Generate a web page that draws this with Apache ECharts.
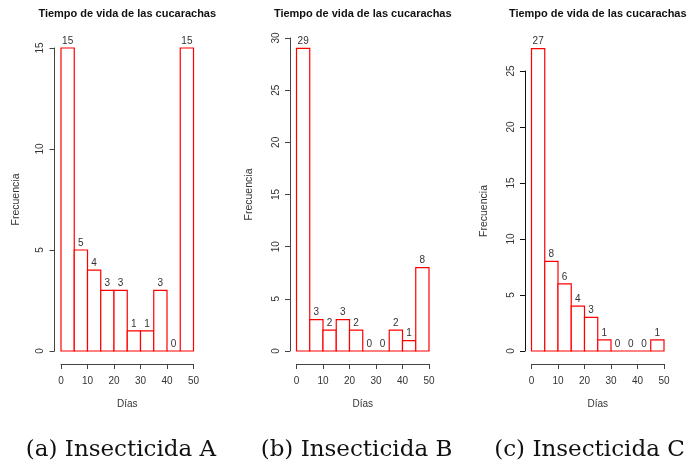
<!DOCTYPE html>
<html>
<head>
<meta charset="utf-8">
<script src="https://cdn.jsdelivr.net/npm/echarts@6/dist/echarts.min.js"></script>
<style>html,body{margin:0;padding:0;background:#fff}#c{width:688px;height:468px}</style>
</head>
<body>
<div id="c"></div>
<script>
// ---- data ----
const binEdges = [0, 5, 10, 15, 20, 25, 30, 35, 40, 45, 50];
const countsA = [15, 5, 4, 3, 3, 1, 1, 3, 0, 15];
const countsB = [29, 3, 2, 3, 2, 0, 0, 2, 1, 8];
const countsC = [27, 8, 6, 4, 3, 1, 0, 0, 0, 1];
const xTicks = [0, 10, 20, 30, 40, 50];
const yMaxA = 15, yMaxB = 30, yMaxC = 25;
const chartTitle = 'Tiempo de vida de las cucarachas';
const xName = 'Días';
const yName = 'Frecuencia';
const captions = ['(a) Insecticida A', '(b) Insecticida B', '(c) Insecticida C'];

const FONT = '"Liberation Sans", Arial, Helvetica, sans-serif';

function histData(counts) {
  return counts.map((c, i) => [binEdges[i], binEdges[i + 1], c]);
}

function renderHist(params, api) {
  const x0 = api.value(0), x1 = api.value(1), y = api.value(2);
  const p0 = api.coord([x0, 0]);
  const p1 = api.coord([x1, y]);
  return {
    type: 'group',
    children: [
      {
        type: 'rect',
        shape: { x: p0[0], y: p1[1], width: p1[0] - p0[0], height: p0[1] - p1[1] },
        style: { fill: '#ffffff', stroke: '#ff0000', lineWidth: 1.2 }
      },
      {
        type: 'text',
        x: (p0[0] + p1[0]) / 2,
        y: p1[1] - 2,
        style: {
          text: String(y), textAlign: 'center', textVerticalAlign: 'bottom',
          fill: '#333', font: '10px ' + FONT
        }
      }
    ]
  };
}

const panels = [
  { left: 61, top: 48, height: 303, max: yMaxA, counts: countsA, nameGap: 33, axisColor: '#444' },
  { left: 296.5, top: 38, height: 313, max: yMaxB, counts: countsB, nameGap: 35, axisColor: '#444' },
  { left: 531.5, top: 71, height: 280, max: yMaxC, counts: countsC, nameGap: 35, axisColor: '#111' }
];
const plotWidth = 132.5;

const option = {
  animation: false,
  backgroundColor: '#fff',
  grid: panels.map(p => ({ left: p.left, top: p.top, width: plotWidth, height: p.height, containLabel: false })),
  xAxis: panels.map((p, i) => ({
    type: 'value', gridIndex: i, min: xTicks[0], max: xTicks[xTicks.length - 1], interval: 10,
    offset: 13,
    name: xName, nameLocation: 'middle', nameGap: 35,
    nameTextStyle: { fontFamily: FONT, fontSize: 10, color: '#333' },
    axisLine: { show: true, onZero: false, lineStyle: { color: '#444', width: 1 } },
    axisTick: { show: true, length: 5, lineStyle: { color: '#444' } },
    axisLabel: { fontFamily: FONT, fontSize: 10, color: '#333', margin: 12 },
    splitLine: { show: false }
  })),
  yAxis: panels.map((p, i) => ({
    type: 'value', gridIndex: i, min: 0, max: p.max, interval: 5,
    offset: 6.5,
    name: yName, nameLocation: 'middle', nameGap: p.nameGap, nameRotate: 90,
    nameTextStyle: { fontFamily: FONT, fontSize: 10.5, color: '#333' },
    axisLine: { show: true, onZero: false, lineStyle: { color: p.axisColor, width: 1 } },
    axisTick: { show: true, length: 5, lineStyle: { color: p.axisColor } },
    axisLabel: { fontFamily: FONT, fontSize: 10, color: '#333', rotate: 90, margin: 9 },
    splitLine: { show: false }
  })),
  series: panels.map((p, i) => ({
    type: 'custom', xAxisIndex: i, yAxisIndex: i, clip: false,
    renderItem: renderHist,
    data: histData(p.counts)
  })),
  graphic: [
    ...panels.map(p => ({
      type: 'text', x: p.left + plotWidth / 2, y: 14,
      style: { text: chartTitle, textAlign: 'center', textVerticalAlign: 'middle',
               font: 'bold 11px ' + FONT, fill: '#111' }
    })),
    ...[121, 356.5, 589.5].map((cx, i) => ({
      type: 'text', x: cx, y: 450,
      style: { text: captions[i], textAlign: 'center', textVerticalAlign: 'middle',
               font: '23px "DejaVu Serif", serif', fill: '#111' }
    }))
  ]
};

const chart = echarts.init(document.getElementById('c'), null, { renderer: 'canvas' });
chart.setOption(option);
</script>
</body>
</html>
